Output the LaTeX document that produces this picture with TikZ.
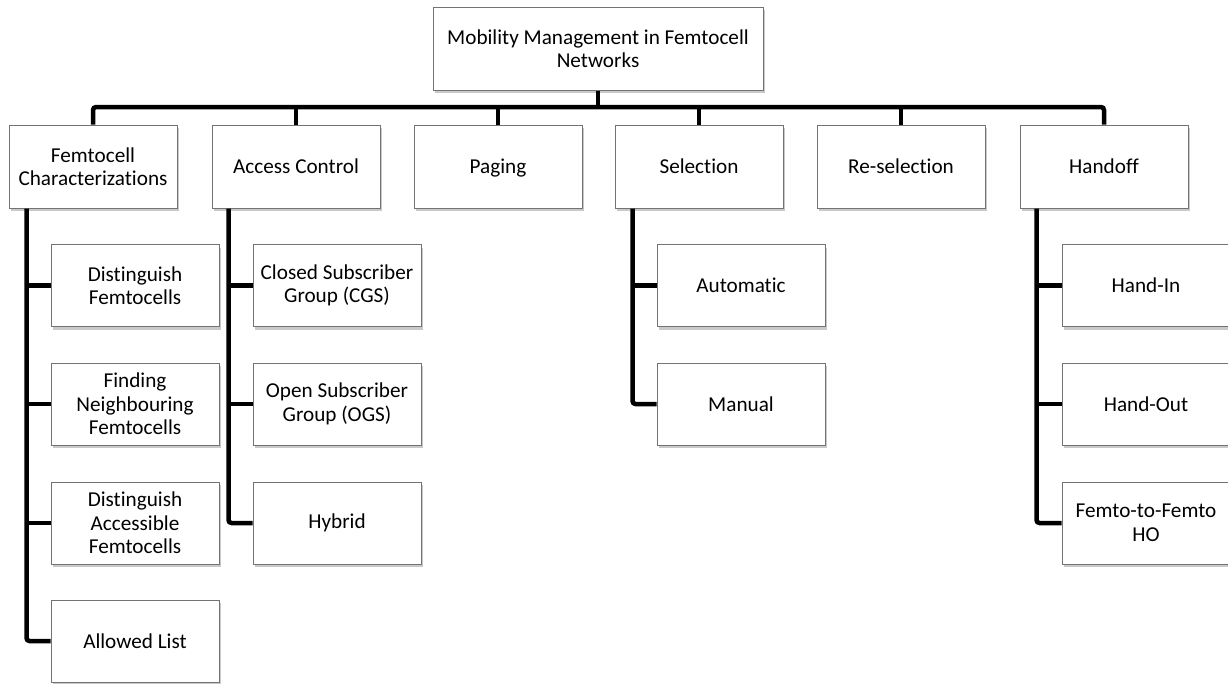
\documentclass[tikz,border=0pt]{standalone}
\usepackage{fontspec}
\setmainfont{Carlito}[Ligatures=NoCommon]
\usepackage{tikz}
\usetikzlibrary{calc,shadows}

\tikzset{
  boite/.style={draw=black!55, fill=white, line width=1pt,
    minimum width=168pt, minimum height=83pt, inner sep=2pt, align=center,
    font=\fontsize{21.2}{23.5}\selectfont,
    drop shadow={shadow xshift=2pt, shadow yshift=-3pt, opacity=0.3, fill=black!70}},
  lien/.style={line width=4.5pt, rounded corners=3pt}
}

\begin{document}
\begin{tikzpicture}[x=1pt,y=-1pt]
  \useasboundingbox (0,0) rectangle (1228,683);

      % RACINE
      \node[boite, minimum width=330pt] (root) at (598,48.5) {Mobility Management in Femtocell\\Networks};
      \coordinate (bus) at (0,107);

      % NIVEAU 1
      \node[boite] (fc) at (93,166.5)  {Femtocell\\Characterizations};
      \node[boite] (ac) at (296,166.5) {Access Control};
      \node[boite, text depth=0pt] (pg) at (498,166.5) {Paging};
      \node[boite] (se) at (699,166.5) {Selection};
      \node[boite] (rs) at (901,166.5) {Re-selection};
      \node[boite] (ho) at (1104,166.5) {Handoff};

      % SOUS-BOITES FEMTOCELL
      \node[boite, minimum height=82pt] (fc1) at (135,285.5) {Distinguish\\Femtocells};
      \node[boite, minimum height=82pt] (fc2) at (135,404)   {Finding\\Neighbouring\\Femtocells};
      \node[boite, minimum height=82pt] (fc3) at (135,523)   {Distinguish\\Accessible\\Femtocells};
      \node[boite, minimum height=82pt] (fc4) at (135,641)   {Allowed List};

      % SOUS-BOITES ACCES
      \node[boite, minimum height=82pt] (ac1) at (337,285.5) {Closed Subscriber\\Group (CGS)};
      \node[boite, minimum height=82pt] (ac2) at (337,404)   {Open Subscriber\\Group (OGS)};
      \node[boite, minimum height=82pt] (ac3) at (337,523)   {Hybrid};

      % SOUS-BOITES SELECTION
      \node[boite, minimum height=82pt] (se1) at (741,285.5) {Automatic};
      \node[boite, minimum height=82pt] (se2) at (741,404)   {Manual};

      % SOUS-BOITES HANDOFF
      \node[boite, minimum height=82pt] (ho1) at (1146,285.5) {Hand-In};
      \node[boite, minimum height=82pt] (ho2) at (1146,404)   {Hand-Out};
      \node[boite, minimum height=82pt] (ho3) at (1146,523)   {Femto-to-Femto\\HO};

      % BUS PRINCIPAL
      \draw[lien](root.south)--(root.south |- bus);
      \draw[lien](fc.north)--(fc.north |- bus)--(ho.north |- bus)--(ho.north);
      \foreach \n in {ac,pg,se,rs}
        \draw[lien](\n.north)--(\n.north |- bus);

      % LIENS VERTICAUX
      \coordinate (fcx) at ($ (fc.south west)+(18,0) $);
      \coordinate (acx) at ($ (ac.south west)+(17,0) $);
      \coordinate (sex) at ($ (se.south west)+(18,0) $);
      \coordinate (hox) at ($ (ho.south west)+(17,0) $);

      \draw[lien](fcx)|-(fc4.west);
      \draw[lien](acx)|-(ac3.west);
      \draw[lien](sex)|-(se2.west);
      \draw[lien](hox)|-(ho3.west);

      % BRANCHES
      \foreach \n in {fc1,fc2,fc3}
        \draw[lien](fcx |- \n.west)--(\n.west);
      \foreach \n in {ac1,ac2}
        \draw[lien](acx |- \n.west)--(\n.west);
      \draw[lien](sex |- se1.west)--(se1.west);
      \foreach \n in {ho1,ho2}
        \draw[lien](hox |- \n.west)--(\n.west);
\end{tikzpicture}
\end{document}
